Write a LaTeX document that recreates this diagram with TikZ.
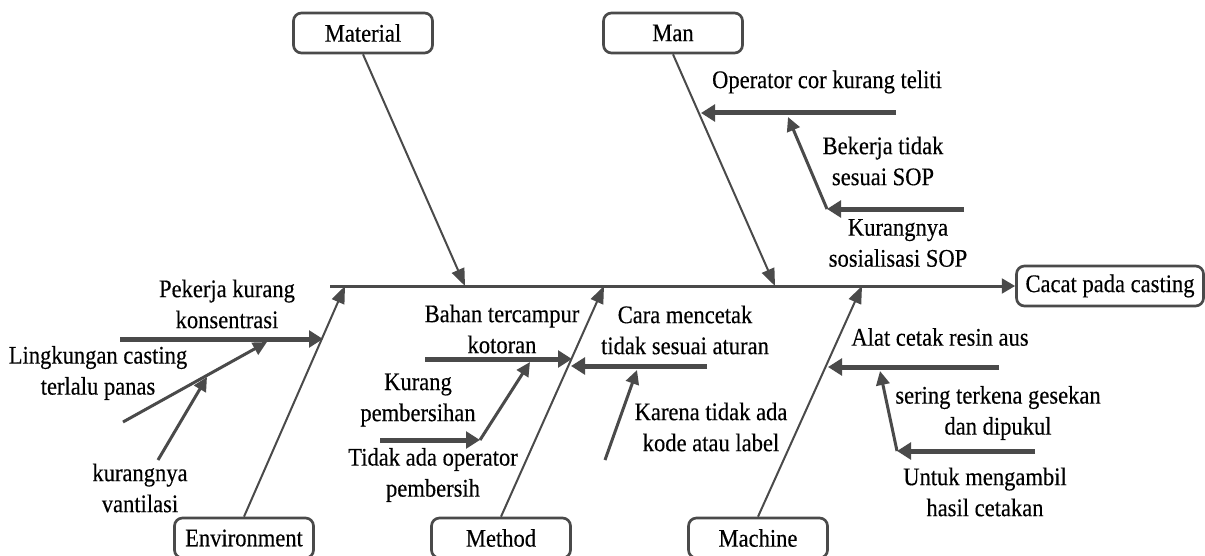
\documentclass[tikz,border=0pt]{standalone}
\usepackage{fontspec}
\setmainfont[FakeStretch=0.89,FakeBold=0.3]{Liberation Serif}
\usetikzlibrary{arrows.meta}
\definecolor{ink}{HTML}{4A4A4A}
\tikzset{
  catbox/.style={draw=ink, line width=2pt, rounded corners=6pt,
    minimum width=104.25pt, minimum height=30pt, inner sep=2pt},
  headbox/.style={catbox, minimum width=140.25pt},
  cause/.style={align=center, inner sep=0pt},
  spine/.style={draw=ink, line width=2.25pt, -{Triangle[length=10pt,width=11pt]}},
  bone/.style={draw=ink, line width=1.5pt, -{Triangle[length=13pt,width=10pt]}},
  twig/.style={draw=ink, line width=3.75pt, -{Triangle[length=10.5pt,width=12.5pt]}},
  subtwig/.style={draw=ink, line width=2.25pt, -{Triangle[length=10.5pt,width=10pt]}}
}
\begin{document}
\begin{tikzpicture}[x=0.75pt, y=-0.75pt,
  every node/.style={font=\rmfamily\fontsize{19}{23.25}\selectfont}]
\useasboundingbox (0,0) rectangle (1205,556);

% category boxes and the effect
\node[catbox]  (mat)   at (363,33)   {Material};
\node[catbox]  (man)   at (673,33)   {Man};
\node[catbox]  (env)   at (244,538)  {Environment};
\node[catbox]  (meth)  at (501,538)  {Method};
\node[catbox]  (mach)  at (758,538)  {Machine};
\node[headbox] (cacat) at (1110,286) {Cacat pada casting};

% spine
\coordinate (tail) at (330,286);
\draw[spine] (tail) -- (cacat.west);

% main bones meeting the spine
\coordinate (matJ)  at (465,286);
\coordinate (manJ)  at (775,286);
\coordinate (envJ)  at (345,286);
\coordinate (methJ) at (604,286);
\coordinate (machJ) at (862,286);
\draw[bone] (mat.south) -- (matJ);
\draw[bone] (man.south) -- (manJ);
\draw[bone] (env.north) -- (envJ);
\draw[bone] (meth.north) -- (methJ);
\draw[bone] (mach.north) -- (machJ);

% --- Man ---
\coordinate (m1s) at (896,113);  \coordinate (m1e) at (701,113);
\coordinate (m2s) at (964,209);  \coordinate (m2k) at (827,209);
\coordinate (m2e) at (788,117);
\draw[twig] (m1s) -- (m1e);
\draw[twig] (m2s) -- (m2k);
\draw[subtwig] (m2k) -- (m2e);
\node[cause] (opcor) at (827,82)  {Operator cor kurang teliti};
\node[cause] (bkj)   at (883,161) {Bekerja tidak\\sesuai SOP};
\node[cause] (krs)   at (898,243) {Kurangnya\\sosialisasi SOP};

% --- Environment ---
\coordinate (e1s) at (120,339);  \coordinate (e1e) at (323,339);
\coordinate (e2s) at (123,422);  \coordinate (e2e) at (267,342);
\coordinate (e3s) at (158,460);  \coordinate (e3e) at (207,377);
\draw[twig] (e1s) -- (e1e);
\draw[subtwig] (e2s) -- (e2e);
\draw[subtwig] (e3s) -- (e3e);
\node[cause] (pkk) at (227,304) {Pekerja kurang\\konsentrasi};
\node[cause] (lcp) at (98,373)  {Lingkungan casting\\terlalu panas};
\node[cause] (kvt) at (140,488) {kurangnya\\vantilasi};

% --- Method ---
\coordinate (t1s) at (425,359);  \coordinate (t1e) at (572,359);
\coordinate (t2s) at (707,366);  \coordinate (t2e) at (571,366);
\coordinate (t3s) at (605,460);  \coordinate (t3e) at (637,370);
\coordinate (t4s) at (380,440);  \coordinate (t4k) at (480,440);
\coordinate (t5e) at (530,362);
\draw[twig] (t1s) -- (t1e);
\draw[twig] (t2s) -- (t2e);
\draw[subtwig] (t3s) -- (t3e);
\draw[twig] (t4s) -- (t4k);
\draw[subtwig] (t4k) -- (t5e);
\node[cause] (btk) at (502,329) {Bahan tercampur\\kotoran};
\node[cause] (cmt) at (685,330) {Cara mencetak\\tidak sesuai aturan};
\node[cause] (ktl) at (711,427) {Karena tidak ada\\kode atau label};
\node[cause] (kpb) at (418,400) {Kurang\\pembersihan};
\node[cause] (tao) at (433,475) {Tidak ada operator\\pembersih};

% --- Machine ---
\coordinate (c1s) at (999,367);  \coordinate (c1e) at (828,367);
\coordinate (c2s) at (1035,451); \coordinate (c2k) at (897,451);
\coordinate (c2e) at (880,371);
\draw[twig] (c1s) -- (c1e);
\draw[twig] (c2s) -- (c2k);
\draw[subtwig] (c2k) -- (c2e);
\node[cause] (acr) at (940,337) {Alat cetak resin aus};
\node[cause] (stg) at (998,413) {sering terkena gesekan\\dan dipukul};
\node[cause] (umh) at (985,492) {Untuk mengambil\\hasil cetakan};
\end{tikzpicture}
\end{document}
